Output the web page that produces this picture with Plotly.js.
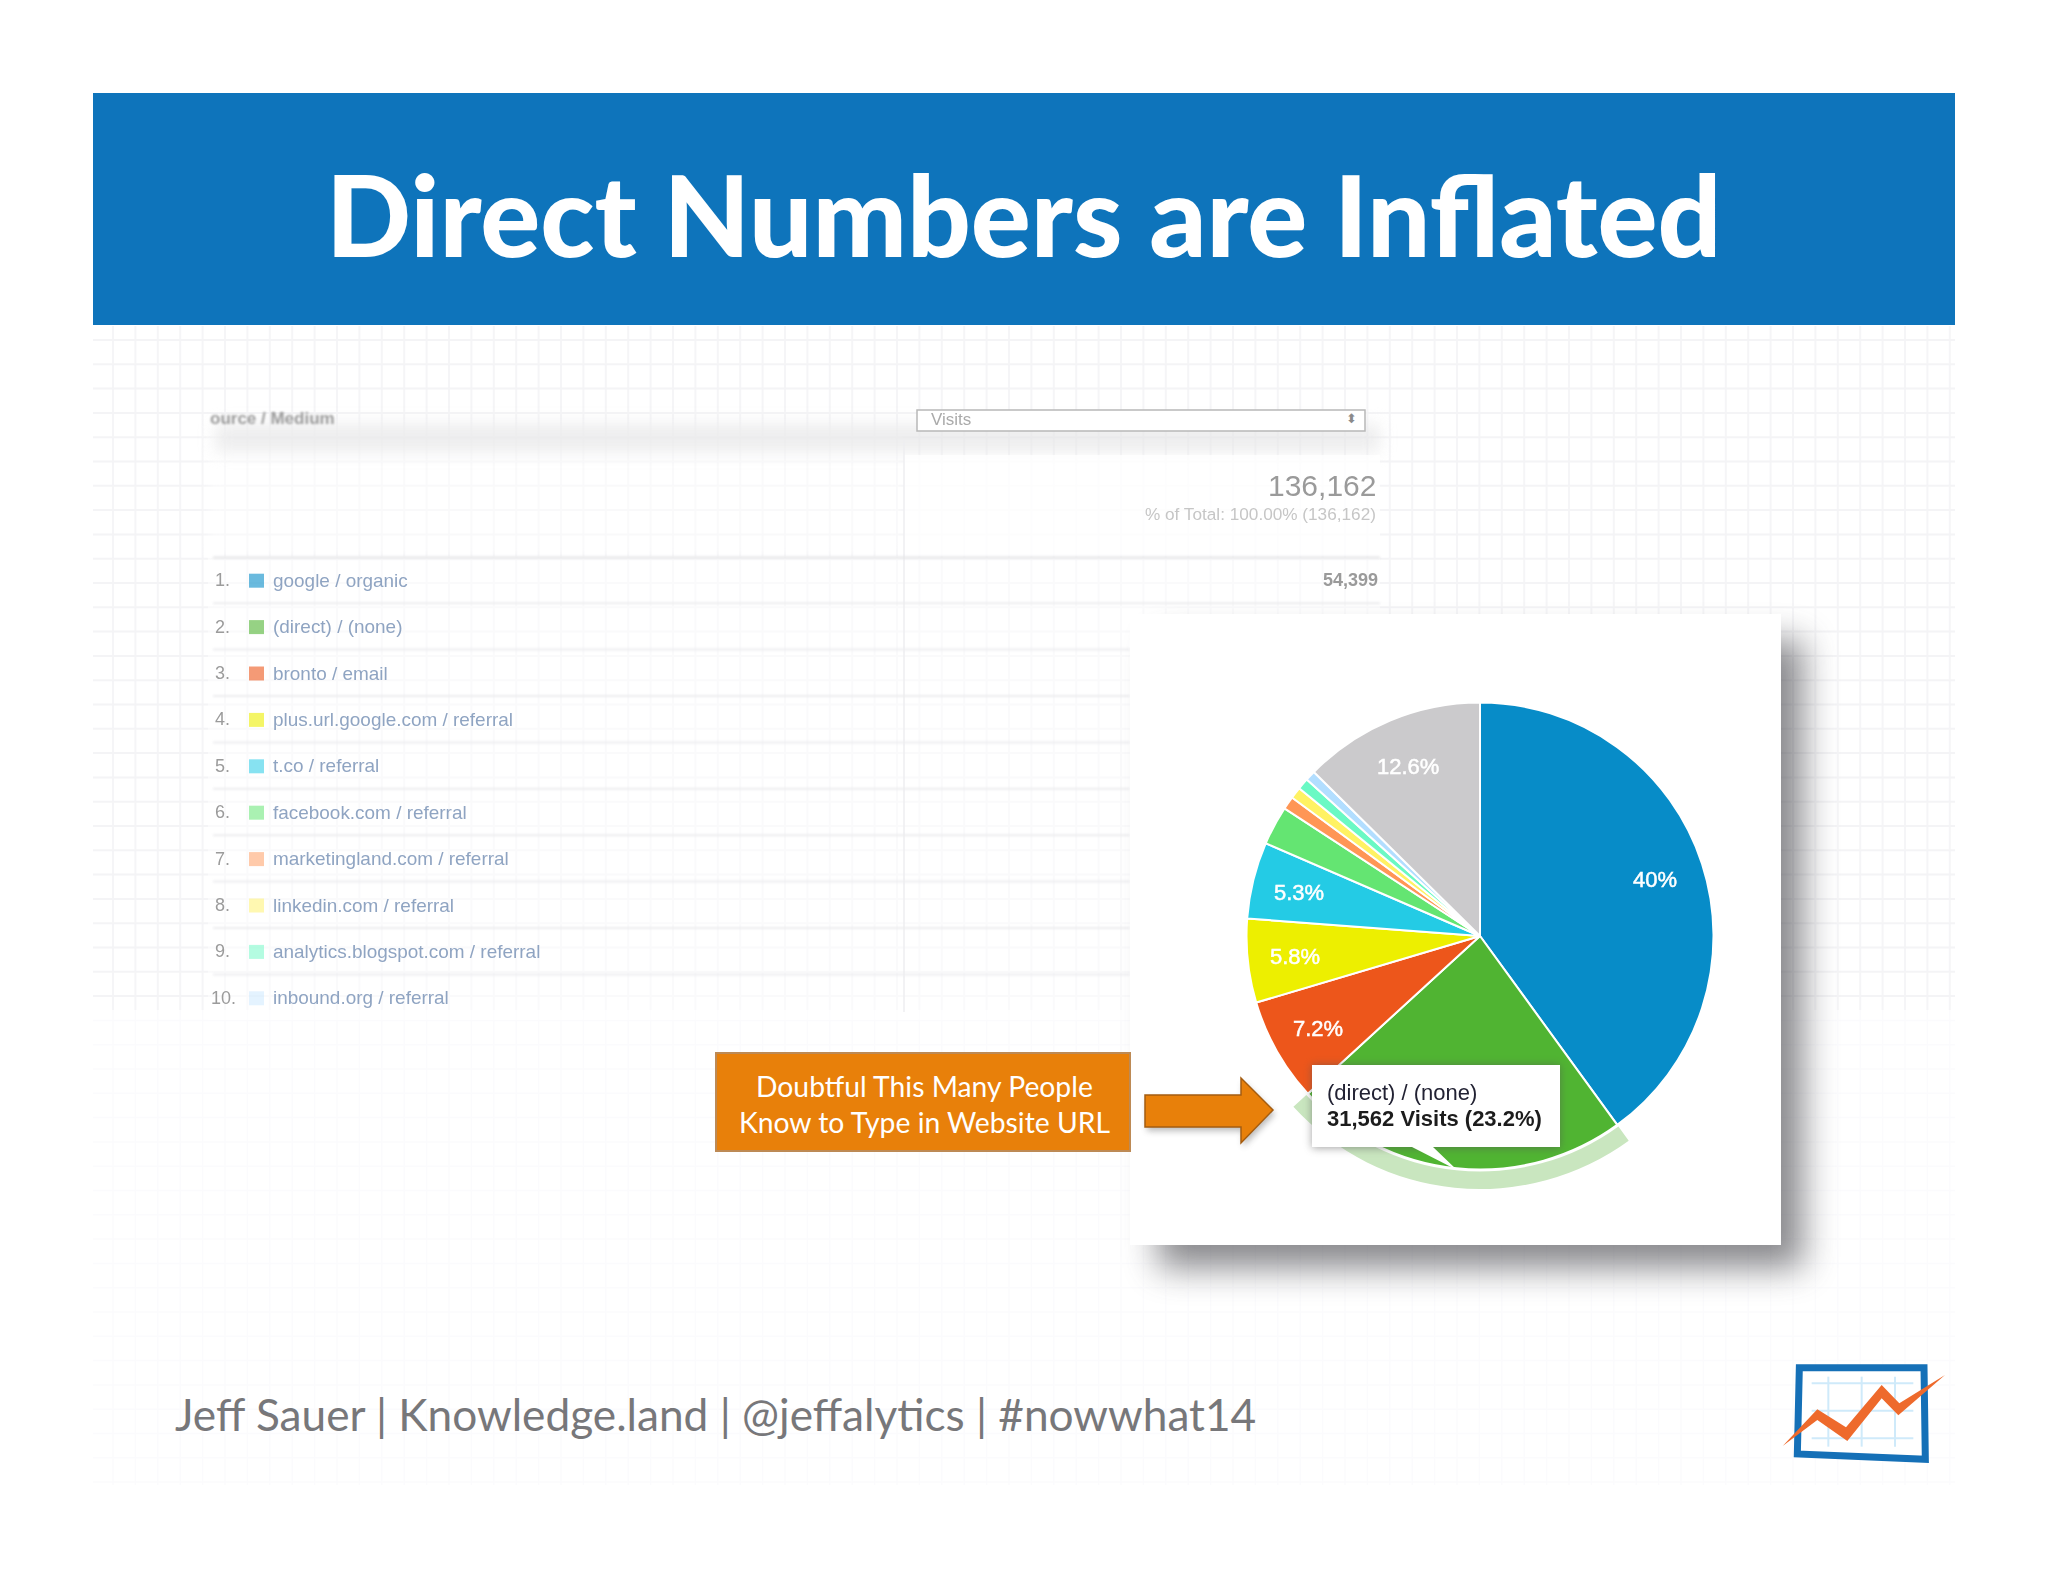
<!DOCTYPE html>
<html>
<head>
<meta charset="utf-8">
<script src="https://cdn.plot.ly/plotly-3.0.1.min.js"></script>
<style>html,body{margin:0;padding:0;background:#fff}#chart{width:2048px;height:1582px}</style>
</head>
<body>
<div id="chart"></div>
<script>
// ---- Data ----
const sources = ["google / organic","(direct) / (none)","bronto / email","plus.url.google.com / referral","t.co / referral","facebook.com / referral","marketingland.com / referral","linkedin.com / referral","analytics.blogspot.com / referral","inbound.org / referral","other"];
const sharePct = [40,23.2,7.2,5.8,5.3,2.7,0.9,0.8,0.8,0.7,12.6];
const sliceColors = ["#078CC8","#50B432","#ED561B","#EDEF00","#24CBE5","#64E572","#FF9655","#FFF263","#6AF9C4","#B2DEFF","#CBCACC"];
const sliceLabels = ["40%","","7.2%","5.8%","5.3%","","","","","","12.6%"];
const swatchOpacity = [0.6,0.6,0.6,0.6,0.55,0.55,0.5,0.5,0.5,0.35];
const titleText = "Direct Numbers are Inflated";
const footerText = "Jeff Sauer | Knowledge.land | @jeffalytics | #nowwhat14";
const calloutLines = ["Doubtful This Many People","Know to Type in Website URL"];
const tooltipLines = ["(direct) / (none)","31,562 Visits (23.2%)"];
const totalVisits = "136,162";
const totalNote = "% of Total: 100.00% (136,162)";
const firstRowVisits = "54,399";

// ---- Page geometry helpers ----
const W = 2048, H = 1582;
const fx = x => x / W, fy = y => 1 - y / H;
const pieCx = 1480, pieCy = 936, pieR = 233.5, ringR = 253;
const domainFor = r => ({x:[fx(pieCx - r), fx(pieCx + r)], y:[fy(pieCy + r), fy(pieCy - r)]});

const shapes = [], annotations = [], cssRules = [];
function rect(x0,y0,x1,y1,fill,o={}) {
  shapes.push({type:'rect',xref:'paper',yref:'paper',x0:fx(x0),x1:fx(x1),y0:fy(y0),y1:fy(y1),
    fillcolor:fill,opacity:o.opacity===undefined?1:o.opacity,layer:o.layer||'below',
    line:{width:o.lw||0,color:o.lc||'rgba(0,0,0,0)'}});
  if(o.blur) cssRules.push('.shapelayer path[data-index="'+(shapes.length-1)+'"]{filter:blur('+o.blur+'px)}');
}
function line(x0,y0,x1,y1,color,w,o={}) {
  shapes.push({type:'line',xref:'paper',yref:'paper',x0:fx(x0),x1:fx(x1),y0:fy(y0),y1:fy(y1),
    layer:o.layer||'below',opacity:o.opacity===undefined?1:o.opacity,line:{color:color,width:w}});
  if(o.blur) cssRules.push('.shapelayer path[data-index="'+(shapes.length-1)+'"]{filter:blur('+o.blur+'px)}');
}
function poly(pts,fill,o={}) {
  const d = pts.map((p,i)=>(i?'L':'M')+fx(p[0])+','+fy(p[1])).join(' ')+' Z';
  shapes.push({type:'path',xref:'paper',yref:'paper',path:d,fillcolor:fill,layer:o.layer||'above',
    opacity:o.opacity===undefined?1:o.opacity,line:{width:o.lw||0,color:o.lc||'rgba(0,0,0,0)'}});
  if(o.blur) cssRules.push('.shapelayer path[data-index="'+(shapes.length-1)+'"]{filter:blur('+o.blur+'px)}');
}
function text(x,y,str,size,color,o={}) {
  annotations.push({xref:'paper',yref:'paper',x:fx(x),y:fy(y),text:str,showarrow:false,
    xanchor:o.anchor||'left',yanchor:'middle',borderpad:0,
    font:{family:o.family||'"Liberation Sans", Arial, sans-serif',size:size,color:color,weight:o.weight||400}});
  const idx = annotations.length-1;
  if(o.blur) cssRules.push('.annotation[data-index="'+idx+'"]{filter:blur('+o.blur+'px)}');
  if(o.stroke) cssRules.push('.annotation[data-index="'+idx+'"] text{stroke:'+color+';stroke-width:'+o.stroke+'px}');
}

// ---- Background grid ----
for(let x=113;x<1955;x+=22.4){
  line(x,326,x,1010,'#f5f5f7',2);
  line(x,1010,x,1485,'#fbfbfd',1.5);
}
for(let y=340;y<1490;y+=24.3){
  line(93,y,1955,y,y<1010?'#f4f4f6':'#fbfbfd',y<1010?2:1.5);
}

// ---- Faded table ----
rect(208,425,904,556,'#ffffff',{opacity:0.5,blur:6});
rect(215,424,1380,452,'#e6e6e7',{opacity:0.7,blur:8});
rect(904,455,1380,556,'#ffffff',{opacity:0.8});
rect(208,556,1380,1020,'#ffffff',{opacity:0.5});
line(904,440,904,1012,'#eeeef0',1.5);
const rowY0 = 580.2, rowStep = 46.4;
line(213,557.5,1380,557.5,'#e4e4e6',2,{blur:0.8});
sources.slice(0,10).forEach((s,i)=>{
  const y = rowY0 + i*rowStep;
  if(i<9) line(213,y+23,i<1?1380:1130,y+23,'#ededef',2,{blur:0.8});
  rect(249,y-6.5,264,y+7.5,sliceColors[i],{opacity:swatchOpacity[i]});
  text(i===9?210:214,y,(i+1)+'.',18,'#9b9b9b',{blur:0.7});
  text(272,y,s,18.95,'#8fa4c2',{blur:0.7});
});
text(209,418,'ource / Medium',17,'#9a9a9a',{weight:700,blur:0.8});
poly([[917,410],[1365,410],[1365,431],[917,431]],'#ffffff',{layer:'below',lw:1.5,lc:'#b8b8b8'});
text(930,419,'Visits',17,'#aaaaaa',{blur:0.7});
text(1358,418,'⬍',13,'#8a8a8a',{anchor:'right'});
text(1377,486,totalVisits,30,'#9a9a9a',{anchor:'right',blur:0.7});
text(1377,514,totalNote,17.2,'#c6c6c6',{anchor:'right',blur:0.7});
text(1379,580,firstRowVisits,18,'#9a9a9a',{anchor:'right',weight:700,blur:0.7});

// ---- Panel with shadow ----
rect(1158,640,1803,1268,'#4a4a50',{opacity:0.65,blur:17});
rect(1130,614,1781,1245,'#ffffff');

// ---- Header ----
rect(93,93,1955,325,'#0E74BB');
text(1023,214,titleText,112,'#ffffff',{anchor:'center',weight:900,family:'Lato, sans-serif'});

// ---- Callout ----
rect(716,1053,1130,1151,'#E8800A',{lw:2,lc:'#bd8a55'});
text(924,1086,calloutLines[0],28.3,'#ffffff',{anchor:'center',family:'Lato, sans-serif'});
text(924,1122,calloutLines[1],28.3,'#ffffff',{anchor:'center',family:'Lato, sans-serif'});
const arrow = [[1145,1095],[1241,1095],[1241,1078],[1273,1110],[1241,1143],[1241,1127],[1145,1127]];
poly(arrow.map(p=>[p[0]+2,p[1]+4]),'#555555',{opacity:0.4,blur:3});
poly(arrow,'#E8800A',{lw:1.5,lc:'#a45c10'});

// ---- Tooltip ----
rect(1312,1065,1560,1148,'#555555',{opacity:0.55,blur:4,layer:'above'});
poly([[1312,1065],[1560,1065],[1560,1147],[1433,1147],[1457,1170],[1412,1147],[1312,1147]],'#ffffff');
text(1326,1092,tooltipLines[0],22,'#222233',{blur:0.4});
text(1326,1118,tooltipLines[1],22,'#1c1c1c',{weight:700,blur:0.4});

// ---- Pie labels, placed from the slice mid-angles ----
let cum = 0; const total = sharePct.reduce((a,b)=>a+b,0);
sharePct.forEach((v,i)=>{
  const mid = (cum + v/2)/total*2*Math.PI; cum += v;
  if(sliceLabels[i]) text(pieCx+185*Math.sin(mid)-1,pieCy-185*Math.cos(mid)+1,sliceLabels[i],22,'#ffffff',{anchor:'center',blur:0.5,stroke:0.5});
});

// ---- Footer ----
text(174,1413,footerText,44.2,'#77777a',{family:'Lato, sans-serif'});

// ---- Logo ----
const lg = p => [1760+p[0]/3,1340+p[1]/3];
poly([[118,83],[492,83],[496,358],[112,342]].map(lg),'#ffffff',{lw:7,lc:'#1570B7'});
[130,212,295].forEach(Y=>{const a=lg([155,Y]),b=lg([460,Y]);line(a[0],a[1],b[0],b[1],'#cfeafa',2,{layer:'above'});});
[205,305,405].forEach(X=>{const a=lg([X,110]),b=lg([X,320]);line(a[0],a[1],b[0],b[1],'#cfeafa',2,{layer:'above'});});
poly([[68,318],[172,208],[258,262],[365,135],[418,190],[555,105],[415,226],[365,175],[262,303],[172,240]].map(lg),'#EE6A2C');

const st = document.createElement('style');
st.textContent = cssRules.join('\n');
document.head.appendChild(st);

const baseTrace = {type:'pie',labels:sources,values:sharePct,sort:false,direction:'clockwise',rotation:0,
  textinfo:'none',hoverinfo:'label+percent'};
const ring = Object.assign({},baseTrace,{name:'highlight',domain:domainFor(ringR),hole:(pieR+2)/ringR,hoverinfo:'skip',
  marker:{colors:sources.map((s,i)=>i===1?'#C9E6BF':'rgba(0,0,0,0)'),line:{width:0}},showlegend:false});
const pie = Object.assign({},baseTrace,{name:'visits',domain:domainFor(pieR),
  marker:{colors:sliceColors,line:{color:'#ffffff',width:2}},showlegend:false});

Plotly.newPlot('chart',[ring,pie],{
  width:W,height:H,margin:{l:0,r:0,t:0,b:0,pad:0},paper_bgcolor:'#ffffff',plot_bgcolor:'rgba(0,0,0,0)',
  showlegend:false,shapes:shapes,annotations:annotations
},{staticPlot:true,displayModeBar:false});
</script>
</body>
</html>
